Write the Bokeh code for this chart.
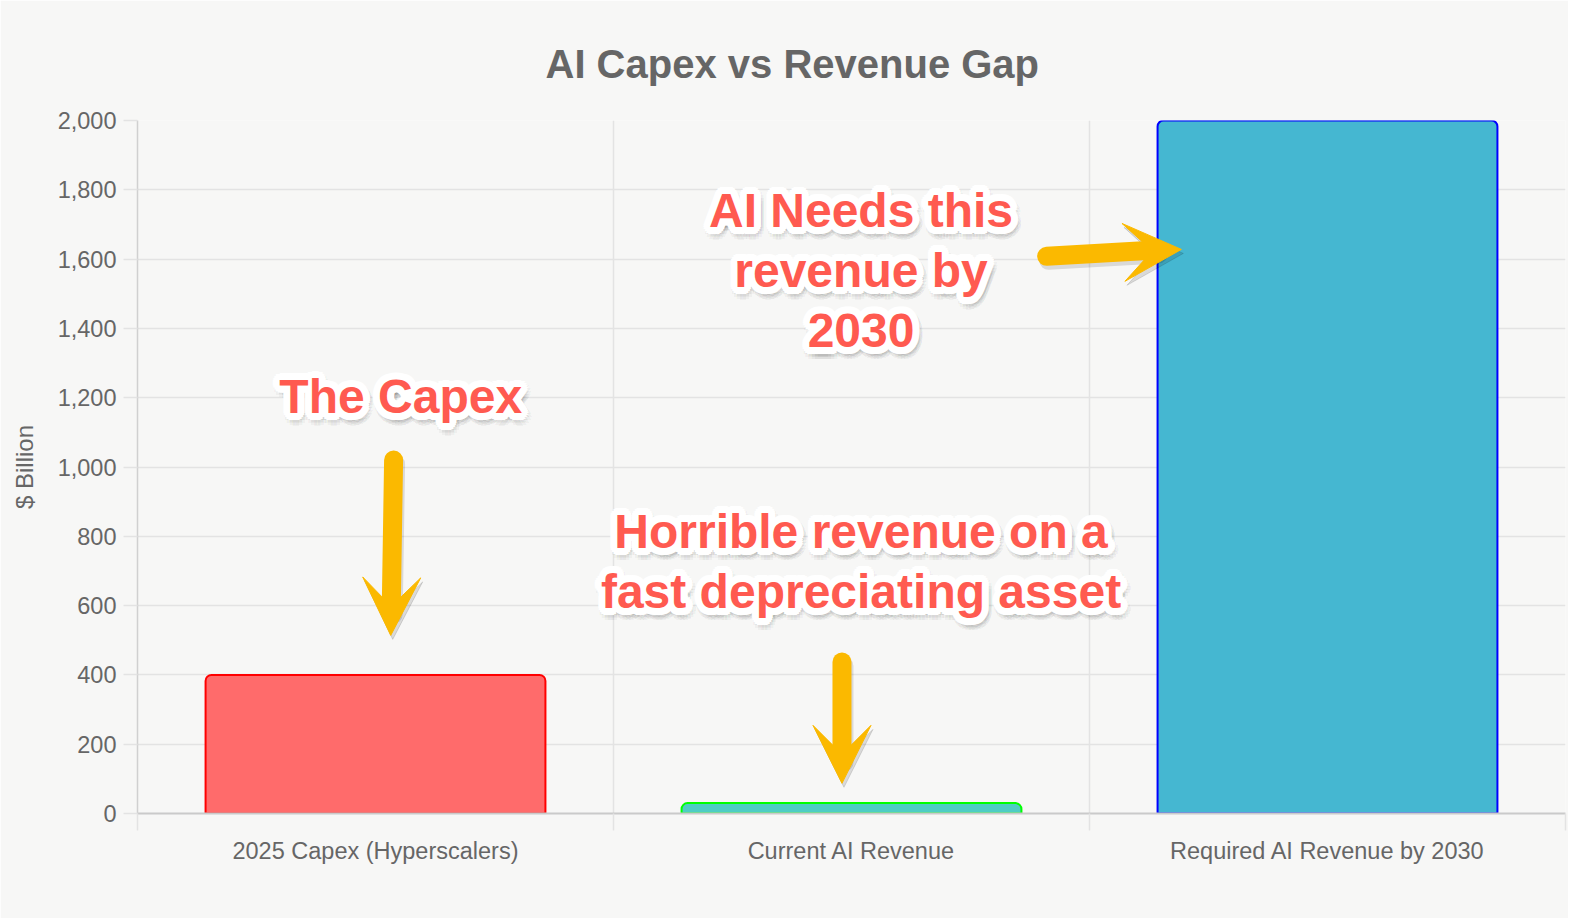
from bokeh.plotting import figure
from bokeh.models import (ColumnDataSource, Range1d, FixedTicker,
                          NumeralTickFormatter, Arrow, VeeHead)
from bokeh.core.properties import value
from bokeh.embed import file_html
from bokeh.resources import INLINE
import math

# ---------------- data ----------------
categories = ["2025 Capex (Hyperscalers)", "Current AI Revenue", "Required AI Revenue by 2030"]
values = [400, 30, 2000]
y_ticks = [0, 200, 400, 600, 800, 1000, 1200, 1400, 1600, 1800, 2000]
title_text = "AI Capex vs Revenue Gap"

# ---------------- annotations ----------------
ann_text = ["The Capex", "AI Needs this", "revenue by", "2030",
            "Horrible revenue on a", "fast depreciating asset"]
ann_x = [0.553, 1.52, 1.52, 1.52, 1.52, 1.52]
ann_y = [1203, 1740, 1567, 1394, 814, 641]

# arrows: (x_start, y_start, x_shaft_end, y_shaft_end, x_tip, y_tip)
arrows = [
    (0.538, 1020, 0.533, 586, 0.532, 514),
    (1.480, 437, 1.480, 159, 1.480, 87),
    (1.910, 1608, 2.140, 1626, 2.193, 1628),
]

# ---------------- styles ----------------
fill_colors = ["#ff6b6b", "#4ecdc4", "#45b7d1"]
line_colors = ["#ff0000", "#00ff00", "#0000ff"]
BG = "#f7f7f6"
GRID = "#e3e3e3"
TXT = "#666666"
RED = "#ff5a50"
ORANGE = "#fbb900"
FONT = "Liberation Sans"

W, H = 1568, 918
p = figure(width=W, height=H, output_backend="svg", toolbar_location=None,
           x_range=Range1d(0, len(categories)), y_range=Range1d(0, 2000),
           min_border_left=137, min_border_right=3, min_border_top=120,
           min_border_bottom=105, background_fill_color=BG,
           border_fill_color=BG, outline_line_color=None,
           title=title_text)

p.title.align = "left"
p.title.offset = 408
p.title.vertical_align = "top"
p.title.standoff = 66
p.title.text_font = FONT
p.title.text_font_size = "40px"
p.title.text_font_style = "bold"
p.title.text_color = TXT

centers = [i + 0.5 for i in range(len(categories))]
bounds = [float(i) for i in range(len(categories) + 1)]

# y axis
p.yaxis.ticker = FixedTicker(ticks=y_ticks)
p.yaxis.formatter = NumeralTickFormatter(format="0,0")
p.yaxis.major_tick_out = 14
p.yaxis.major_tick_in = 0
p.yaxis.minor_tick_out = 0
p.yaxis.minor_tick_in = 0
p.yaxis.major_tick_line_color = GRID
p.yaxis.major_tick_line_width = 1.5
p.yaxis.axis_line_color = "#d0d0d0"
p.yaxis.axis_line_width = 1.5
p.yaxis.major_label_standoff = 7
p.yaxis.major_label_text_font = FONT
p.yaxis.major_label_text_font_size = "23.5px"
p.yaxis.major_label_text_color = TXT
p.yaxis.axis_label = "$ Billion"
p.yaxis.axis_label_text_font = FONT
p.yaxis.axis_label_text_font_style = "normal"
p.yaxis.axis_label_text_font_size = "24px"
p.yaxis.axis_label_text_color = TXT
p.yaxis.axis_label_standoff = 17

# x axis
p.xaxis.ticker = FixedTicker(ticks=centers, minor_ticks=bounds)
p.xaxis.major_label_overrides = {c: cat for c, cat in zip(centers, categories)}
p.xaxis.major_tick_line_color = None
p.xaxis.major_tick_out = 17
p.xaxis.major_tick_in = 0
p.xaxis.minor_tick_out = 17
p.xaxis.minor_tick_in = 0
p.xaxis.minor_tick_line_color = GRID
p.xaxis.minor_tick_line_width = 1.5
p.xaxis.axis_line_color = "#cacaca"
p.xaxis.axis_line_width = 2
p.xaxis.major_label_standoff = 7
p.xaxis.major_label_text_font = FONT
p.xaxis.major_label_text_font_size = "23.5px"
p.xaxis.major_label_text_color = TXT

# grids
p.xgrid.ticker = FixedTicker(ticks=bounds)
p.ygrid.ticker = FixedTicker(ticks=y_ticks)
for g in (p.xgrid, p.ygrid):
    g.grid_line_color = GRID
    g.grid_line_width = 1.5

# bars
src = ColumnDataSource(dict(x=centers, top=values, cat=categories,
                            fill=fill_colors, line=line_colors))
p.vbar(x="x", top="top", bottom=0, width=0.714, source=src,
       fill_color="fill", line_color="line", line_width=2,
       border_radius=(6, 6, 0, 0))

# ---------------- annotation texts with halo and shadow ----------------
def ring(r, n):
    return [(r * math.cos(2 * math.pi * k / n), r * math.sin(2 * math.pi * k / n)) for k in range(n)]

def layer(offsets, sx=0.0, sy=0.0):
    xs, ys, ts, dx, dy = [], [], [], [], []
    for ox, oy in offsets:
        for t, x, y in zip(ann_text, ann_x, ann_y):
            xs.append(x); ys.append(y); ts.append(t)
            dx.append(ox + sx); dy.append(oy + sy)
    return ColumnDataSource(dict(x=xs, y=ys, text=ts, dx=dx, dy=dy))

text_kw = dict(x="x", y="y", text="text", x_offset="dx", y_offset="dy",
               text_font=value(FONT), text_font_style="bold",
               text_font_size=value("48px"), text_align="center",
               text_baseline="alphabetic")

p.text(source=layer(ring(8.5, 16) + ring(6, 12), 2, 4), text_color="black", text_alpha=0.035, **text_kw)
p.text(source=layer(ring(7, 20) + ring(4.8, 14) + ring(2.4, 8)), text_color="white", **text_kw)
p.text(source=layer([(0, 0)]), text_color=RED, **text_kw)

# ---------------- arrows ----------------
SDX = 2 * len(categories) / 1428.0
SDY = -4 * 2000 / 693.0
for shadow in (True, False):
    col = "black" if shadow else ORANGE
    alpha = 0.12 if shadow else 1.0
    ox = SDX if shadow else 0.0
    oy = SDY if shadow else 0.0
    for (xs, ys, xe, ye, xt, yt) in arrows:
        p.add_layout(Arrow(end=None, x_start=xs + ox, y_start=ys + oy,
                           x_end=xe + ox, y_end=ye + oy, line_color=col,
                           line_alpha=alpha, line_width=19, line_cap="round"))
        p.add_layout(Arrow(end=VeeHead(size=58, fill_color=col, fill_alpha=alpha,
                                       line_color=col, line_alpha=alpha, line_width=1),
                           x_start=xs + ox, y_start=ys + oy, x_end=xt + ox, y_end=yt + oy,
                           line_alpha=0, line_width=1))

open("out.html", "w").write(file_html(p, INLINE))
